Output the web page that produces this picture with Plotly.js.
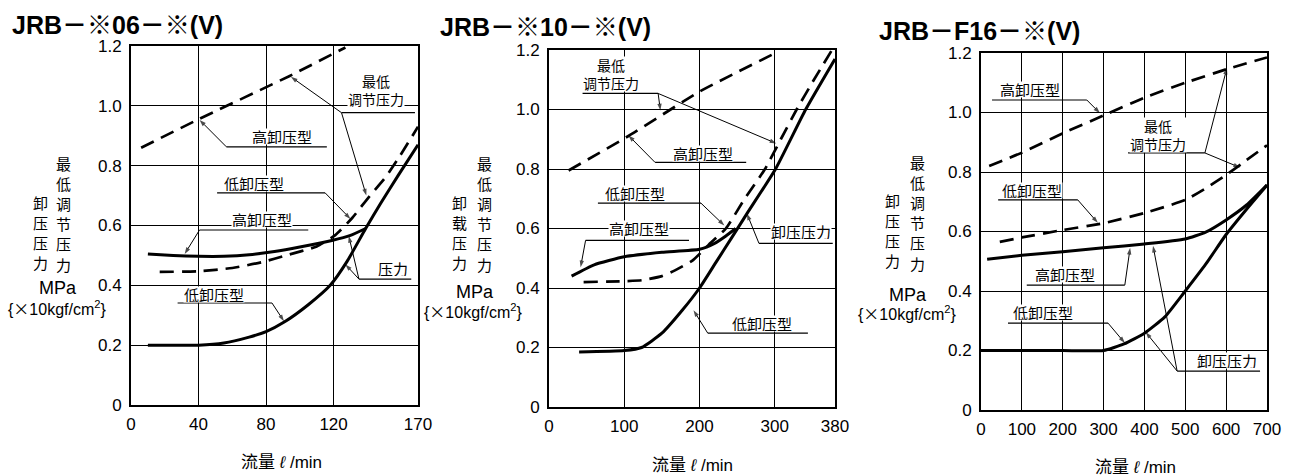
<!DOCTYPE html>
<html><head><meta charset="utf-8">
<script src="https://cdn.plot.ly/plotly-3.0.1.min.js"></script>
<style>html,body{margin:0;padding:0;background:#fff;overflow:hidden}</style>
</head><body><div id="chart" style="width:1293px;height:476px"></div>
<script>
// ---------------- DATA ----------------
const chartTitles = ['JRB－※06－※(V)', 'JRB－※10－※(V)', 'JRB－F16－※(V)'];
const xTicks06 = [0, 40, 80, 120, 170];
const xTicks10 = [0, 100, 200, 300, 380];
const xTicks16 = [0, 100, 200, 300, 400, 500, 600, 700];
const yTicks = [0, 0.2, 0.4, 0.6, 0.8, 1.0, 1.2];
const yTickText = ['0', '0.2', '0.4', '0.6', '0.8', '1.0', '1.2'];

// JRB-*06  (flow l/min, pressure MPa)
const flow06_highUnload = [10, 25, 40, 55, 70, 85, 100, 119, 130, 139];
const press06_highUnload = [0.505, 0.5, 0.497, 0.497, 0.502, 0.513, 0.528, 0.55, 0.567, 0.59];
const flow06_lowUnload = [10, 40, 55, 70, 80, 91, 105, 118, 128, 139, 148, 158, 170];
const press06_lowUnload = [0.2, 0.2, 0.207, 0.227, 0.245, 0.278, 0.335, 0.40, 0.48, 0.59, 0.675, 0.765, 0.87];
const flow06_minAdjHigh = [6, 40, 94, 127];
const press06_minAdjHigh = [0.86, 0.955, 1.1, 1.195];
const flow06_minAdjLow = [17, 40, 60, 78, 93, 110, 121, 131, 141, 151, 159, 170];
const press06_minAdjLow = [0.445, 0.447, 0.458, 0.478, 0.502, 0.53, 0.568, 0.625, 0.696, 0.763, 0.83, 0.93];

// JRB-*10
const flow10_highUnload = [30, 60, 100, 150, 200, 220, 235, 248];
const press10_highUnload = [0.44, 0.478, 0.505, 0.52, 0.53, 0.55, 0.575, 0.6];
const flow10_lowUnload = [40, 100, 123, 150, 177, 200, 222, 243, 263, 301, 341, 380];
const press10_lowUnload = [0.185, 0.19, 0.2, 0.248, 0.325, 0.40, 0.487, 0.57, 0.65, 0.8, 1.0, 1.17];
const flow10_minAdjHigh = [26, 105, 200, 301];
const press10_minAdjHigh = [0.795, 0.91, 1.06, 1.19];
const flow10_minAdjLow = [46, 100, 123, 150, 168, 191, 212, 235, 260, 287, 308, 329, 352, 376];
const press10_minAdjLow = [0.42, 0.423, 0.426, 0.44, 0.46, 0.493, 0.545, 0.6, 0.7, 0.8, 0.9, 1.0, 1.1, 1.2];

// JRB-F16
const flow16_highUnload = [15, 100, 200, 300, 400, 500, 550, 600, 650, 700];
const press16_highUnload = [0.507, 0.52, 0.532, 0.545, 0.558, 0.575, 0.598, 0.639, 0.689, 0.756];
const flow16_lowUnload = [0, 100, 200, 300, 350, 400, 450, 500, 550, 600, 650, 700];
const press16_lowUnload = [0.2, 0.2, 0.2, 0.2, 0.222, 0.258, 0.313, 0.4, 0.49, 0.59, 0.675, 0.756];
const flow16_minAdjHigh = [20, 100, 200, 300, 400, 500, 600, 700];
const press16_minAdjHigh = [0.82, 0.865, 0.93, 0.99, 1.05, 1.10, 1.145, 1.185];
const flow16_minAdjLow = [46, 100, 200, 300, 400, 500, 550, 600, 650, 700];
const press16_minAdjLow = [0.565, 0.58, 0.605, 0.628, 0.662, 0.706, 0.745, 0.79, 0.84, 0.89];

// ---------------- LAYOUT HELPERS ----------------
const W = 1293, H = 476;
const fx = v => v / W, fy = v => 1 - v / H;
const CJK = '"Noto Sans CJK SC", "Noto Sans CJK JP", sans-serif';
const NUM = '"Liberation Sans", Arial, sans-serif';
const TITLEF = '"Liberation Sans", "Noto Sans CJK SC", sans-serif';

const panels = [
  { xa: 'x', ya: 'y', box: [131, 418, 46, 405], xrange: [0, 170], xticks: xTicks06,
    curves: [[flow06_highUnload, press06_highUnload, 0], [flow06_lowUnload, press06_lowUnload, 0],
             [flow06_minAdjHigh, press06_minAdjHigh, 1], [flow06_minAdjLow, press06_minAdjLow, 1]],
    title: { x: 10, y: 25 }, xtitle: { x: 281, y: 462 },
    ycols: [{ t: '卸压压力', x: 40, y: 202 }, { t: '最低调节压力', x: 63, y: 163 }],
    mpa: { x: 58, y: 288 }, unit: { x: 57, y: 308 },
    texts: [['最低<br>调节压力', 145.3, 1.052, 14], ['高卸压型', 89.4, 0.896], ['低卸压型', 72.9, 0.742],
            ['高卸压型', 77.6, 0.619], ['压力', 155.3, 0.455], ['低卸压型', 49.4, 0.371]],
    under: [[124.7, 168.2, 0.977], [56.5, 116, 0.863], [51, 115, 0.709], [40.6, 105, 0.585], [135, 166, 0.421], [27.6, 83.5, 0.341]],
    leaders: [[124.7, 0.977, 94.7, 1.097], [124.7, 0.977, 139.4, 0.70], [56.5, 0.863, 40.6, 0.953], [115, 0.709, 130, 0.622],
              [40.6, 0.585, 31.8, 0.505], [135, 0.421, 129, 0.565], [135, 0.421, 127, 0.47], [83.5, 0.341, 90.6, 0.28]] },
  { xa: 'x2', ya: 'y2', box: [549, 835, 50, 407], xrange: [0, 380], xticks: xTicks10,
    curves: [[flow10_highUnload, press10_highUnload, 0], [flow10_lowUnload, press10_lowUnload, 0],
             [flow10_minAdjHigh, press10_minAdjHigh, 1], [flow10_minAdjLow, press10_minAdjLow, 1]],
    title: { x: 438, y: 27 }, xtitle: { x: 692, y: 465 },
    ycols: [{ t: '卸载压力', x: 459, y: 202 }, { t: '最低调节压力', x: 484, y: 163 }],
    mpa: { x: 475, y: 292 }, unit: { x: 473, y: 311 },
    texts: [['最低<br>调节压力', 82, 1.118, 14], ['高卸压型', 205, 0.852], ['低卸压型', 114, 0.718],
            ['高卸压型', 119, 0.60], ['卸压压力', 335, 0.59], ['低卸压型', 283, 0.282]],
    under: [[44.6, 145, 1.054], [141, 262, 0.822], [65, 202, 0.685], [48.6, 186, 0.56], [279, 377, 0.55], [211, 344, 0.248]],
    leaders: [[145, 1.054, 148, 0.997], [145, 1.054, 302, 0.886], [141, 0.822, 105.5, 0.913], [202, 0.685, 233, 0.61],
              [48.6, 0.56, 42, 0.47], [279, 0.55, 263, 0.65], [211, 0.248, 192, 0.325]] },
  { xa: 'x3', ya: 'y3', box: [981, 1267, 53, 410], xrange: [0, 700], xticks: xTicks16,
    curves: [[flow16_highUnload, press16_highUnload, 0], [flow16_lowUnload, press16_lowUnload, 0],
             [flow16_minAdjHigh, press16_minAdjHigh, 1], [flow16_minAdjLow, press16_minAdjLow, 1]],
    title: { x: 877, y: 31 }, xtitle: { x: 1135, y: 467 },
    ycols: [{ t: '卸压压力', x: 892, y: 200 }, { t: '最低调节压力', x: 917, y: 162 }],
    mpa: { x: 908, y: 295 }, unit: { x: 907, y: 313 },
    texts: [['高卸压型', 120, 1.076], ['最低<br>调节压力', 433, 0.926, 14], ['低卸压型', 125, 0.739],
            ['高卸压型', 206, 0.454], ['低卸压型', 152, 0.329], ['卸压压力', 602, 0.168]],
    under: [[27, 259, 1.042], [360, 548, 0.864], [42, 237, 0.706], [112, 352, 0.42], [66, 311, 0.292], [480, 683, 0.131]],
    leaders: [[259, 1.042, 291, 0.998], [548, 0.864, 602, 1.15], [548, 0.864, 634, 0.815], [237, 0.706, 286, 0.629],
              [352, 0.42, 365, 0.545], [311, 0.292, 352, 0.225], [480, 0.131, 421, 0.552], [480, 0.131, 403, 0.262]] }
];

const traces = [], annotations = [], shapes = [];
const layout = {
  width: W, height: H, margin: { l: 0, r: 0, t: 0, b: 0 }, showlegend: false,
  paper_bgcolor: '#fff', plot_bgcolor: '#fff', font: { family: NUM, color: '#000' }
};

panels.forEach((p, i) => {
  const xk = 'xaxis' + (i ? i + 1 : ''), yk = 'yaxis' + (i ? i + 1 : '');
  layout[xk] = {
    domain: [fx(p.box[0]), fx(p.box[1])], anchor: p.ya, range: p.xrange, tickvals: p.xticks,
    showline: true, mirror: true, linewidth: 2, linecolor: '#000', showgrid: true, gridcolor: '#000', gridwidth: 1,
    zeroline: false, ticks: '', ticklabelstandoff: 3, tickfont: { family: NUM, size: 17, color: '#000' }, fixedrange: true
  };
  layout[yk] = {
    domain: [fy(p.box[3]), fy(p.box[2])], anchor: p.xa, range: [0, 1.2], tickvals: yTicks, ticktext: yTickText,
    showline: true, mirror: true, linewidth: 2, linecolor: '#000', showgrid: true, gridcolor: '#000', gridwidth: 1,
    zeroline: false, ticks: '', ticklabelstandoff: 4, tickfont: { family: NUM, size: 17, color: '#000' }, fixedrange: true
  };
  // curves
  p.curves.forEach(c => traces.push({ type: 'scatter', mode: 'lines', x: c[0], y: c[1], xaxis: p.xa, yaxis: p.ya,
    hoverinfo: 'skip', line: { color: '#000', width: c[2] ? 2.7 : 3, dash: c[2] ? '14px,8px' : 'solid', shape: 'spline', smoothing: 0.5 } }));
  // leader lines with small arrowheads at the curve end
  p.leaders.forEach(l => traces.push({ type: 'scatter', mode: 'lines+markers', x: [l[0], l[2]], y: [l[1], l[3]],
    xaxis: p.xa, yaxis: p.ya, hoverinfo: 'skip', line: { color: '#000', width: 1 },
    marker: { symbol: 'arrow', size: [0, 7], angleref: 'previous', color: '#000', line: { width: 0 } } }));
  // label underlines
  p.under.forEach(u => shapes.push({ type: 'line', xref: p.xa, yref: p.ya, x0: u[0], x1: u[1], y0: u[2], y1: u[2],
    line: { color: '#000', width: 1.2 } }));
  // labels with white background (cut gridlines like the original)
  p.texts.forEach(t => {
    const two = t[0].indexOf('<br>') >= 0;
    annotations.push({ xref: p.xa, yref: p.ya, x: t[1], y: t[2], text: t[0], showarrow: false,
      font: { family: CJK, size: t[3] || 15, color: '#000' }, bgcolor: '#fff', borderpad: 0,
      height: two ? 34 : 15, valign: 'middle', align: 'center', xanchor: 'center', yanchor: 'middle' });
  });
  // panel title
  annotations.push({ xref: 'paper', yref: 'paper', x: fx(p.title.x), y: fy(p.title.y), xanchor: 'left', yanchor: 'middle',
    text: '<b>' + chartTitles[i] + '</b>', showarrow: false, font: { family: TITLEF, size: 25, color: '#000' } });
  // x-axis title
  annotations.push({ xref: 'paper', yref: 'paper', x: fx(p.xtitle.x), y: fy(p.xtitle.y), xanchor: 'center', yanchor: 'middle',
    text: '流量 <i>ℓ</i> /min', showarrow: false, font: { family: '"Liberation Sans", "Noto Sans CJK SC", sans-serif', size: 17, color: '#000' } });
  // vertical y-axis labels
  p.ycols.forEach(col => Array.from(col.t).forEach((ch, k) => annotations.push({ xref: 'paper', yref: 'paper',
    x: fx(col.x), y: fy(col.y + k * 20.2), xanchor: 'center', yanchor: 'middle', text: ch, showarrow: false,
    font: { family: CJK, size: 15, color: '#000' } })));
  annotations.push({ xref: 'paper', yref: 'paper', x: fx(p.mpa.x), y: fy(p.mpa.y), xanchor: 'center', yanchor: 'middle',
    text: 'MPa', showarrow: false, font: { family: NUM, size: 18, color: '#000' } });
  annotations.push({ xref: 'paper', yref: 'paper', x: fx(p.unit.x), y: fy(p.unit.y), xanchor: 'center', yanchor: 'middle',
    text: '{<span style="font-family:Noto Sans CJK SC">×</span>10kgf/cm<sup>2</sup>}', showarrow: false,
    font: { family: NUM, size: 16, color: '#000' } });
});
layout.annotations = annotations;
layout.shapes = shapes;

Plotly.newPlot('chart', traces, layout, { staticPlot: true, displayModeBar: false });
</script></body></html>
